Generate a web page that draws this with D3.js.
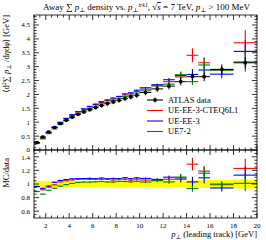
<!DOCTYPE html>
<html><head><meta charset="utf-8">
<script src="https://cdn.jsdelivr.net/npm/d3@7"></script>
<style>
html,body{margin:0;padding:0;background:#fff;}
svg text{font-family:"Liberation Serif","DejaVu Serif",serif;fill:#000;}
</style></head>
<body>
<svg id="chart" width="266" height="240"></svg>
<script>
// ---- data ----
const binEdges = [1,1.5,2,2.5,3,3.5,4,4.5,5,5.5,6,6.5,7,7.5,8,8.5,9,9.5,10,11,12,13,14,15,16,18,20];
const dataVals = [0.27,0.47,0.65,0.81,0.95,1.07,1.18,1.28,1.37,1.45,1.53,1.60,1.67,1.73,1.79,1.85,1.91,1.97,2.07,2.20,2.30,2.46,2.64,2.64,2.90,3.14];
const dataErr  = [0.012,0.02,0.03,0.036,0.042,0.048,0.053,0.058,0.062,0.066,0.07,0.073,0.077,0.08,0.083,0.087,0.09,0.094,0.1,0.11,0.12,0.13,0.15,0.16,0.18,0.21];
const blueVals  = [0.26,0.44,0.63,0.83,1.00,1.14,1.27,1.38,1.48,1.57,1.65,1.74,1.80,1.87,1.93,2.02,2.06,2.15,2.24,2.35,2.53,2.68,2.72,2.88,2.73,3.55];
const redVals   = [0.26,0.43,0.62,0.80,0.98,1.12,1.25,1.37,1.47,1.55,1.64,1.71,1.79,1.83,1.92,1.98,2.02,2.11,2.19,2.31,2.46,2.63,3.41,3.14,2.90,3.86];
const greenVals = [0.24,0.40,0.59,0.76,0.92,1.06,1.19,1.31,1.41,1.49,1.58,1.66,1.72,1.78,1.86,1.92,1.97,2.05,2.13,2.31,2.37,2.71,2.46,3.06,2.87,3.17];
const blueErr  = [0.003,0.004,0.005,0.006,0.007,0.008,0.009,0.01,0.011,0.012,0.013,0.014,0.015,0.016,0.017,0.018,0.02,0.022,0.03,0.04,0.06,0.12,0.2,0.22,0.15,0.4];
const redErr   = [0.003,0.004,0.005,0.006,0.007,0.008,0.009,0.01,0.011,0.012,0.013,0.014,0.015,0.016,0.017,0.018,0.02,0.022,0.03,0.04,0.06,0.12,0.25,0.2,0.12,0.45];
const greenErr = [0.003,0.004,0.005,0.006,0.007,0.008,0.009,0.01,0.011,0.012,0.013,0.014,0.015,0.016,0.017,0.018,0.02,0.022,0.03,0.04,0.06,0.12,0.12,0.25,0.12,0.35];
const seriesNames = ["ATLAS data","UE-EE-3-CTEQ6L1","UE-EE-3","UE7-2"];
const seriesColors = ["#000000","#ff0000","#0000ff","#008000"];
const xTickLabels = [2,4,6,8,10,12,14,16,18,20];
const yMainTicks = [0,0.5,1,1.5,2,2.5,3,3.5,4,4.5];
const yRatioTicks = [0.6,0.8,1,1.2,1.4];

// ---- layout ----
const L=34,R=257,T=15,MB=150,RB=218;
const svg=d3.select("#chart");
const x=d3.scaleLinear().domain([1,20]).range([L,R]);
const y=d3.scaleLinear().domain([0,4.86]).range([MB,T]);
const yr=d3.scaleLinear().domain([0.5,1.5]).range([RB,MB]);

svg.append("defs").html(`<clipPath id="cm"><rect x="${L}" y="${T}" width="${R-L}" height="${MB-T}"/></clipPath>
<clipPath id="cr"><rect x="${L}" y="${MB}" width="${R-L}" height="${RB-MB}"/></clipPath>`);

const nb=dataVals.length;
const bins=d3.range(nb).map(i=>({lo:binEdges[i],hi:binEdges[i+1],c:(binEdges[i]+binEdges[i+1])/2}));

// ratio band
const gR=svg.append("g").attr("clip-path","url(#cr)");
const bandArea=[];
bins.forEach((b,i)=>{const r=dataErr[i]/dataVals[i];bandArea.push([b.lo,1-r,1+r]);bandArea.push([b.hi,1-r,1+r]);});
gR.append("path").datum(bandArea).attr("fill","#ffff00")
 .attr("d",d3.area().x(d=>x(d[0])).y0(d=>yr(d[1])).y1(d=>yr(d[2])));

const gM=svg.append("g").attr("clip-path","url(#cm)");

function drawMC(vals,errs,color){
  const g=gM.append("g").attr("stroke",color).attr("stroke-width",1.1).attr("fill","none");
  bins.forEach((b,i)=>{
    g.append("line").attr("x1",x(b.lo)).attr("x2",x(b.hi)).attr("y1",y(vals[i])).attr("y2",y(vals[i]));
    g.append("line").attr("x1",x(b.c)).attr("x2",x(b.c)).attr("y1",y(vals[i]-errs[i])).attr("y2",y(vals[i]+errs[i]));
  });
  const h=gR.append("g").attr("stroke",color).attr("stroke-width",1.1).attr("fill","none");
  bins.forEach((b,i)=>{
    const r=vals[i]/dataVals[i], e=errs[i]/dataVals[i];
    h.append("line").attr("x1",x(b.lo)).attr("x2",x(b.hi)).attr("y1",yr(r)).attr("y2",yr(r));
    h.append("line").attr("x1",x(b.c)).attr("x2",x(b.c)).attr("y1",yr(r-e)).attr("y2",yr(r+e));
  });
}
drawMC(redVals,redErr,seriesColors[1]);
drawMC(blueVals,blueErr,seriesColors[2]);
drawMC(greenVals,greenErr,seriesColors[3]);

// data
const gd=gM.append("g").attr("stroke","#000").attr("stroke-width",1);
bins.forEach((b,i)=>{
  gd.append("line").attr("x1",x(b.lo)).attr("x2",x(b.hi)).attr("y1",y(dataVals[i])).attr("y2",y(dataVals[i]));
  gd.append("line").attr("x1",x(b.c)).attr("x2",x(b.c)).attr("y1",y(dataVals[i]-dataErr[i])).attr("y2",y(dataVals[i]+dataErr[i]));
  gd.append("rect").attr("x",x(b.c)-1.6).attr("y",y(dataVals[i])-1.6).attr("width",3.2).attr("height",3.2).attr("fill","#000").attr("stroke","none");
});

// frames & ticks
const ax=svg.append("g").attr("stroke","#000").attr("fill","none").attr("stroke-width",0.8);
ax.append("rect").attr("x",L).attr("y",T).attr("width",R-L).attr("height",MB-T);
ax.append("rect").attr("x",L).attr("y",MB).attr("width",R-L).attr("height",RB-MB);
function xt(yy,dir){
  for(let v=1;v<=20.001;v+=0.5){
    const maj=Math.abs(v/2-Math.round(v/2))<1e-6;
    const len=maj?5:2.5;
    ax.append("line").attr("x1",x(v)).attr("x2",x(v)).attr("y1",yy).attr("y2",yy+dir*len);
  }
}
xt(T,1);xt(MB,-1);xt(MB,1);xt(RB,-1);
function yt(sc,lo,hi,minStep,majStep){
  const n=Math.round((hi-lo)/minStep);
  for(let k=0;k<=n;k++){
    const v=lo+k*minStep; const maj=Math.abs(v/majStep-Math.round(v/majStep))<1e-6;
    const len=maj?5:2.5;
    ax.append("line").attr("x1",L).attr("x2",L+len).attr("y1",sc(v)).attr("y2",sc(v));
    ax.append("line").attr("x1",R).attr("x2",R-len).attr("y1",sc(v)).attr("y2",sc(v));
  }
}
yt(y,0,4.8,0.1,0.5);
yt(yr,0.55,1.45,0.05,0.2);

// tick labels
const tl=svg.append("g").attr("font-size",7);
yMainTicks.forEach(v=>tl.append("text").attr("x",L-4).attr("y",y(v)+(v===0?1.5:2.4)).attr("text-anchor","end").text(v));
yRatioTicks.forEach(v=>tl.append("text").attr("x",L-4).attr("y",yr(v)+(v===1.4?3.2:2.4)).attr("text-anchor","end").text(v));
xTickLabels.forEach(v=>tl.append("text").attr("x",x(v)).attr("y",RB+10).attr("text-anchor","middle").text(v));

// title
const t=svg.append("text").attr("x",(L+R)/2+1).attr("y",10).attr("text-anchor","middle").attr("font-size",9);
t.append("tspan").text("Away ∑ ");
t.append("tspan").attr("font-style","italic").text("p");
t.append("tspan").attr("font-size",6.3).attr("dy",1.5).text("⊥");
t.append("tspan").attr("dy",-1.5).text(" density vs. ");
t.append("tspan").attr("font-style","italic").text("p");
t.append("tspan").attr("font-size",6.3).attr("dy",1.5).text("⊥");
t.append("tspan").attr("font-size",5.8).attr("dy",-5).attr("font-style","italic").text("trk1");
t.append("tspan").attr("dy",3.5).text(", √");
t.append("tspan").attr("font-style","italic").attr("text-decoration","overline").text("s");
t.append("tspan").text(" = 7 TeV, ");
t.append("tspan").attr("font-style","italic").text("p");
t.append("tspan").attr("font-size",6.3).attr("dy",1.5).text("⊥");
t.append("tspan").attr("dy",-1.5).text(" > 100 MeV");

// y label main
const yl=svg.append("text").attr("transform",`translate(9,${T}) rotate(-90)`).attr("text-anchor","end").attr("font-size",8.5);
yl.append("tspan").text("⟨d");
yl.append("tspan").attr("font-size",6).attr("dy",-3).text("2");
yl.append("tspan").attr("dy",3).text("∑ ");
yl.append("tspan").attr("font-style","italic").text("p");
yl.append("tspan").attr("font-size",6).attr("dy",1.5).text("⊥");
yl.append("tspan").attr("dy",-1.5).text(" /d");
yl.append("tspan").attr("font-style","italic").text("η");
yl.append("tspan").text("d");
yl.append("tspan").attr("font-style","italic").text("φ");
yl.append("tspan").text("⟩ [GeV]");

svg.append("text").attr("transform",`translate(9,${MB+8}) rotate(-90)`).attr("text-anchor","end").attr("font-size",8.5).text("MC/data");

// x label
const xl=svg.append("text").attr("x",R).attr("y",RB+19).attr("text-anchor","end").attr("font-size",8.5);
xl.append("tspan").attr("font-style","italic").text("p");
xl.append("tspan").attr("font-size",6).attr("dy",1.5).text("⊥");
xl.append("tspan").attr("dy",-1.5).text(" (leading track) [GeV]");

// legend
const lg=svg.append("g");
const ly0=100, lsp=10.5;
seriesNames.forEach((nm,i)=>{
  const yy=ly0+i*lsp;
  lg.append("line").attr("x1",147).attr("x2",163).attr("y1",yy).attr("y2",yy).attr("stroke",seriesColors[i]).attr("stroke-width",1.1);
  if(i===0){lg.append("rect").attr("x",153.4).attr("y",yy-1.6).attr("width",3.2).attr("height",3.2).attr("fill","#000");
    lg.append("line").attr("x1",155).attr("x2",155).attr("y1",yy-2.5).attr("y2",yy+2.5).attr("stroke","#000");}
  lg.append("text").attr("x",168).attr("y",yy+2.8).attr("font-size",8.5).text(nm);
});
</script>
</body></html>
